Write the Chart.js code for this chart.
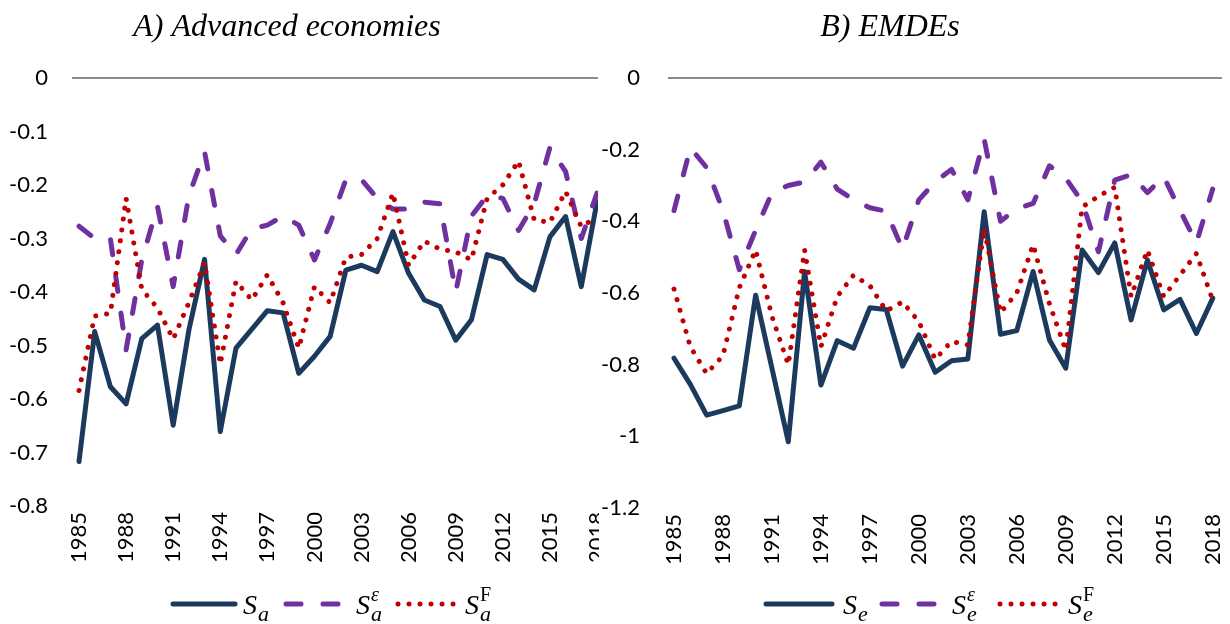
<!DOCTYPE html>
<html lang="en">
<head>
<meta charset="UTF-8">
<title>Sensitivity: advanced economies and EMDEs</title>
<script src="https://cdn.jsdelivr.net/npm/chart.js@4.4.1/dist/chart.umd.min.js"></script>
<style>
  html, body { margin: 0; padding: 0; background: #fff; }
  #wrap { position: relative; width: 1230px; height: 624px; overflow: hidden; background: #fff; }
  #chartA { position: absolute; left: 0; top: 0; }
  #chartB { position: absolute; left: 599px; top: 0; }
</style>
</head>
<body>
<div id="wrap">
  <canvas id="chartA" width="599" height="624"></canvas>
  <canvas id="chartB" width="631" height="624"></canvas>
</div>
<script>
// years on the x axis and the ones that get a label
const years = [1985, 1986, 1987, 1988, 1989, 1990, 1991, 1992, 1993, 1994, 1995, 1996,
               1997, 1998, 1999, 2000, 2001, 2002, 2003, 2004, 2005, 2006, 2007, 2008,
               2009, 2010, 2011, 2012, 2013, 2014, 2015, 2016, 2017, 2018];
const tickYears = [1985, 1988, 1991, 1994, 1997, 2000, 2003, 2006, 2009, 2012, 2015, 2018];

// A) advanced economies
const sA = [-0.717, -0.474, -0.577, -0.609, -0.487, -0.462, -0.649, -0.471, -0.339, -0.661,
            -0.505, -0.470, -0.435, -0.439, -0.552, -0.520, -0.483, -0.359, -0.350, -0.362,
            -0.287, -0.365, -0.415, -0.427, -0.490, -0.452, -0.330, -0.339, -0.376, -0.396,
            -0.297, -0.259, -0.390, -0.231];
const sAeps = [-0.277, -0.300, -0.300, -0.508, -0.340, -0.240, -0.390, -0.220, -0.138, -0.295,
               -0.330, -0.282, -0.275, -0.258, -0.275, -0.340, -0.272, -0.190, -0.190, -0.225,
               -0.245, -0.245, -0.232, -0.235, -0.400, -0.258, -0.220, -0.225, -0.285, -0.235,
               -0.130, -0.175, -0.300, -0.215];
const sAF = [-0.584, -0.445, -0.440, -0.225, -0.395, -0.430, -0.488, -0.420, -0.345, -0.535,
             -0.380, -0.415, -0.368, -0.420, -0.505, -0.390, -0.420, -0.335, -0.330, -0.300,
             -0.215, -0.350, -0.305, -0.320, -0.325, -0.340, -0.225, -0.200, -0.155, -0.265,
             -0.270, -0.212, -0.278, -0.260];

// B) EMDEs
const sE = [-0.782, -0.855, -0.941, -0.928, -0.915, -0.606, -0.810, -1.015, -0.540, -0.857,
            -0.733, -0.754, -0.641, -0.646, -0.804, -0.717, -0.821, -0.789, -0.784, -0.373,
            -0.715, -0.705, -0.540, -0.731, -0.810, -0.480, -0.543, -0.460, -0.675, -0.508,
            -0.647, -0.618, -0.713, -0.615];
const sEeps = [-0.370, -0.195, -0.250, -0.370, -0.535, -0.425, -0.320, -0.300, -0.290, -0.235,
               -0.310, -0.340, -0.362, -0.372, -0.478, -0.340, -0.290, -0.255, -0.340, -0.170,
               -0.400, -0.365, -0.350, -0.245, -0.280, -0.345, -0.485, -0.285, -0.270, -0.320,
               -0.275, -0.370, -0.460, -0.310];
const sEF = [-0.589, -0.750, -0.825, -0.775, -0.585, -0.480, -0.665, -0.800, -0.480, -0.750,
             -0.610, -0.550, -0.580, -0.650, -0.625, -0.680, -0.785, -0.735, -0.745, -0.420,
             -0.655, -0.600, -0.465, -0.630, -0.760, -0.360, -0.330, -0.305, -0.610, -0.480,
             -0.610, -0.550, -0.490, -0.620];

const NAVY = '#1c3a5e';
const PURPLE = '#7030a0';
const RED = '#c00000';
const LABEL_FONT = 'Lato';

function points(vals) {
  return years.map((yr, i) => ({ x: yr, y: vals[i] }));
}

function makeDatasets(solid, dashed, dotted) {
  return [
    { data: points(solid), borderColor: NAVY, borderWidth: 5, order: 3 },
    { data: points(dashed), borderColor: PURPLE, borderWidth: 5, borderDash: [15, 22], order: 2 },
    { data: points(dotted), borderColor: RED, borderWidth: 5, borderDash: [0.01, 11], order: 1 }
  ].map(d => Object.assign(d, {
    pointRadius: 0, tension: 0, fill: false,
    borderCapStyle: 'round', borderJoinStyle: 'round'
  }));
}

// title above the panel and the math-style legend underneath
const decor = {
  id: 'decor',
  afterDraw(chart, args, opts) {
    const ctx = chart.ctx;
    ctx.save();
    ctx.fillStyle = '#000';
    ctx.font = 'italic 32px "Liberation Serif"';
    ctx.textAlign = 'center';
    ctx.textBaseline = 'alphabetic';
    ctx.fillText(opts.title, opts.titleX, 36);

    const y = opts.legendY;
    opts.items.forEach(it => {
      const ds = chart.data.datasets[it.ds];
      ctx.strokeStyle = ds.borderColor;
      ctx.lineWidth = ds.borderWidth;
      ctx.lineCap = 'round';
      ctx.setLineDash(ds.borderDash || []);
      ctx.beginPath();
      ctx.moveTo(it.x0, y);
      ctx.lineTo(it.x1, y);
      ctx.stroke();
      ctx.setLineDash([]);

      ctx.textAlign = 'left';
      ctx.font = 'italic 28px "Liberation Serif"';
      ctx.fillText('S', it.tx, y + 10);
      const sx = it.tx + ctx.measureText('S').width + 1;
      ctx.font = 'italic 22px "Liberation Serif"';
      ctx.fillText(opts.sub, sx, y + 17);
      if (it.sup) {
        ctx.font = (it.supItalic ? 'italic ' : '') + '20px "Liberation Serif"';
        ctx.fillText(it.sup, sx, y - 3);
      }
    });
    ctx.restore();
  }
};

function makeChart(id, datasets, cfg) {
  return new Chart(document.getElementById(id), {
    type: 'line',
    data: { datasets },
    plugins: [decor],
    options: {
      responsive: false,
      animation: false,
      layout: { padding: { top: 78, right: cfg.padRight, bottom: 0, left: 0 } },
      plugins: {
        legend: { display: false },
        tooltip: { enabled: false },
        decor: cfg.decor
      },
      scales: {
        x: {
          type: 'linear',
          min: cfg.xMin,
          max: cfg.xMax,
          afterBuildTicks: s => { s.ticks = tickYears.map(v => ({ value: v })); },
          afterFit: s => { s.height = cfg.xHeight; s.paddingLeft = 0; s.paddingRight = 0; },
          grid: { display: false, drawTicks: false },
          border: { display: false },
          ticks: {
            autoSkip: false, minRotation: 90, maxRotation: 90, padding: 6,
            color: '#000', font: { family: LABEL_FONT, size: 22 },
            callback: v => String(v)
          }
        },
        y: {
          min: cfg.yMin,
          max: 0,
          afterFit: s => { s.width = cfg.yWidth; },
          grid: {
            drawTicks: false,
            lineWidth: 2,
            color: c => (c.tick && c.tick.value === 0 ? '#8a8a8a' : 'rgba(0,0,0,0)')
          },
          border: { display: false },
          ticks: {
            stepSize: cfg.yStep, padding: cfg.yPad,
            color: '#000', font: { family: LABEL_FONT, size: 22 },
            callback: v => String(Math.round(v * 10) / 10)
          }
        }
      }
    }
  });
}

makeChart('chartA', makeDatasets(sA, sAeps, sAF), {
  padRight: 1, xMin: 1984.554, xMax: 2018.064, xHeight: 118,
  yMin: -0.8, yStep: 0.1, yWidth: 72, yPad: 24,
  decor: {
    title: 'A) Advanced economies', titleX: 287, legendY: 604, sub: 'a',
    items: [
      { ds: 0, x0: 173, x1: 235, tx: 243 },
      { ds: 1, x0: 286, x1: 344, tx: 356, sup: '\u03b5', supItalic: true },
      { ds: 2, x0: 398, x1: 456, tx: 465, sup: 'F', supItalic: false }
    ]
  }
});

makeChart('chartB', makeDatasets(sE, sEeps, sEF), {
  padRight: 8, xMin: 1984.632, xMax: 2018.57, xHeight: 116,
  yMin: -1.2, yStep: 0.2, yWidth: 69, yPad: 28,
  decor: {
    title: 'B) EMDEs', titleX: 291, legendY: 604, sub: 'e',
    items: [
      { ds: 0, x0: 167, x1: 233, tx: 244 },
      { ds: 1, x0: 283, x1: 346, tx: 353, sup: '\u03b5', supItalic: true },
      { ds: 2, x0: 401, x1: 462, tx: 469, sup: 'F', supItalic: false }
    ]
  }
});
</script>
</body>
</html>
